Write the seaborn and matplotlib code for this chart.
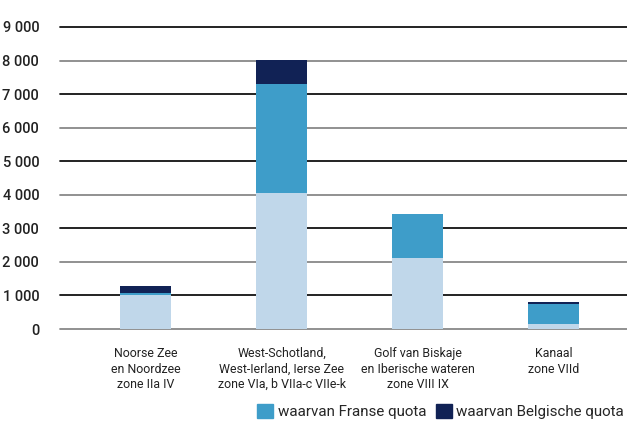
import matplotlib
matplotlib.use("Agg")
import matplotlib.pyplot as plt
import seaborn as sns
import pandas as pd
from matplotlib.patches import Patch
from matplotlib.ticker import FuncFormatter, MultipleLocator

categories = [
    "Noorse Zee\nen Noordzee\nzone IIa IV",
    "West-Schotland,\nWest-Ierland, Ierse Zee\nzone VIa, b VIIa-c VIIe-k",
    "Golf van Biskaje\nen Iberische wateren\nzone VIII IX",
    "Kanaal\nzone VIId",
]
overig = [1020, 4060, 2115, 150]
franse = [50, 3240, 1315, 595]
belgische = [220, 720, 0, 60]
series_names = ["overig", "waarvan Franse quota", "waarvan Belgische quota"]
colors = ["#C0D7EA", "#3E9DC9", "#112255"]

sns.set_theme(style="white")
plt.rcParams["font.family"] = ["Roboto", "DejaVu Sans"]

fig = plt.figure(figsize=(6.27, 4.23), dpi=100)
ax = fig.add_axes([60 / 627, 1 - 329 / 423, 1 - 60 / 627, (329 - 27) / 423])

cum1 = overig
cum2 = [a + b for a, b in zip(overig, franse)]
cum3 = [a + b for a, b in zip(cum2, belgische)]
layers = [cum3, cum2, cum1]
layer_colors = [colors[2], colors[1], colors[0]]
for vals, c in zip(layers, layer_colors):
    df = pd.DataFrame({"cat": categories, "val": vals})
    sns.barplot(data=df, x="cat", y="val", order=categories, color=c,
                saturation=1, width=0.375, ax=ax, zorder=3, linewidth=0,
                edgecolor="none")

ax.set_ylim(0, 9000)
ax.set_xlim(-0.632, 3.540)
ax.yaxis.set_major_locator(MultipleLocator(1000))
ax.yaxis.set_major_formatter(FuncFormatter(lambda v, p: f"{int(v):,}".replace(",", " ")))
for y in range(0, 9001, 1000):
    col = "#888888" if (y // 1000) % 2 == 0 else "#111111"
    ax.axhline(y, color=col, lw=1.3, zorder=1, clip_on=False)
for s in ax.spines.values():
    s.set_visible(False)
ax.set_xlabel("")
ax.set_ylabel("")
ax.tick_params(axis="y", length=0, pad=15, labelsize=10.5, labelcolor="#222222")
ax.tick_params(axis="x", length=0, pad=13, labelcolor="#222222")
for lab in ax.get_yticklabels():
    lab.set_fontweight("medium")
for lab in ax.get_xticklabels():
    lab.set_fontsize(8.9)
    lab.set_linespacing(1.25)

handles = [Patch(color=colors[1]), Patch(color=colors[2])]
fig.legend(handles, series_names[1:], loc="lower right", bbox_to_anchor=(1.01, -0.013),
           ncol=2, frameon=False, fontsize=10.9, handlelength=1.05, handleheight=1.05,
           handletextpad=0.3, columnspacing=0.65, borderaxespad=0.2)

fig.savefig("out.png", dpi=100)
